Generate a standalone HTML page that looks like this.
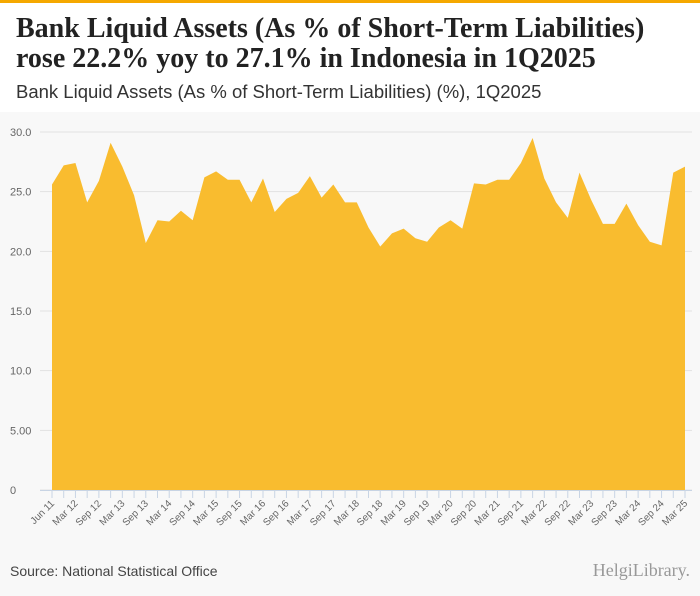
<!DOCTYPE html>
<html><head><meta charset="utf-8"><style>
body{margin:0;width:700px;height:596px;background:#f8f8f8;font-family:"Liberation Sans",sans-serif;overflow:hidden;position:relative}
#hdr{position:absolute;left:0;top:0;width:700px;height:112px;background:#fff;border-top:3px solid #f5a800;box-sizing:border-box}
#title{position:absolute;left:16px;top:11px;font-family:"Liberation Serif",serif;font-weight:bold;font-size:28px;line-height:30px;color:#222;white-space:nowrap}
#sub{position:absolute;left:16px;top:78px;font-size:18.5px;color:#333;white-space:nowrap}
#src{position:absolute;left:10px;top:563px;font-size:14px;color:#444}
#logo{position:absolute;right:10px;top:560px;font-family:"Liberation Serif",serif;font-size:18px;color:#999}
svg{position:absolute;left:0;top:0}
</style></head><body>
<div id="hdr">
<div id="title">Bank Liquid Assets (As % of Short-Term Liabilities)<br>rose 22.2% yoy to 27.1% in Indonesia in 1Q2025</div>
<div id="sub">Bank Liquid Assets (As % of Short-Term Liabilities) (%), 1Q2025</div>
</div>
<svg id="chart" width="700" height="596"></svg>
<div id="src">Source: National Statistical Office</div>
<div id="logo">HelgiLibrary.</div>
<script>
const values=[25.6,27.2,27.4,24.1,25.9,29.1,27.1,24.7,20.7,22.6,22.5,23.4,22.6,26.2,26.7,26.0,26.0,24.1,26.1,23.3,24.4,24.9,26.3,24.5,25.6,24.1,24.1,22.0,20.4,21.5,21.9,21.1,20.8,22.0,22.6,21.9,25.7,25.6,26.0,26.0,27.4,29.5,26.1,24.1,22.8,26.6,24.3,22.3,22.3,24.0,22.2,20.8,20.5,26.6,27.1];
const yTicks=[0,5,10,15,20,25,30];
const yTickLabels=["0","5.00","10.0","15.0","20.0","25.0","30.0"];
const months=["Mar","Jun","Sep","Dec"];
const categories=[];
(function(){let q=0,y=25;for(let i=values.length-1;i>=0;i--){categories[i]=months[q]+" "+String(y).padStart(2,"0");q--;if(q<0){q=3;y--;}}categories[0]="Jun 11";})();
const svg=document.getElementById('chart');const NS="http://www.w3.org/2000/svg";
const x0=52,x1=685,yb=490,yt=132,ymax=30;
const X=i=>x0+(x1-x0)*i/(values.length-1);
const Y=v=>yb-(yb-yt)*v/ymax;
function mk(t,a){const e=document.createElementNS(NS,t);for(const k in a)e.setAttribute(k,a[k]);svg.appendChild(e);return e;}
yTicks.forEach((t,i)=>{
 const g=mk('line',{x1:40,x2:692,y1:Y(t),y2:Y(t),stroke:'#e2e2e2'});
 
 
 const l=mk('text',{x:10,y:Y(t)+4,'font-size':11,fill:'#666'});l.textContent=yTickLabels[i];
 
 
});
let d="M"+X(0)+","+Y(0);values.forEach((v,i)=>d+=" L"+X(i)+","+Y(v));d+=" L"+X(values.length-1)+","+Y(0)+"Z";
const a=mk('path',{d:d,fill:'#f9bc2f'});


mk('line',{x1:40,x2:692,y1:yb+0.5,y2:yb+0.5,stroke:'#c8d4e4'});
categories.forEach((c,i)=>{
 mk('line',{x1:X(i),x2:X(i),y1:yb,y2:yb+8,stroke:'#c8d4e4'});
 if(i%2===0){const t=mk('text',{'font-size':10,fill:'#666','text-anchor':'end',transform:`translate(${X(i)+3},${yb+14}) rotate(-45)`});t.textContent=c;
 
 }
});
</script>
</body></html>
